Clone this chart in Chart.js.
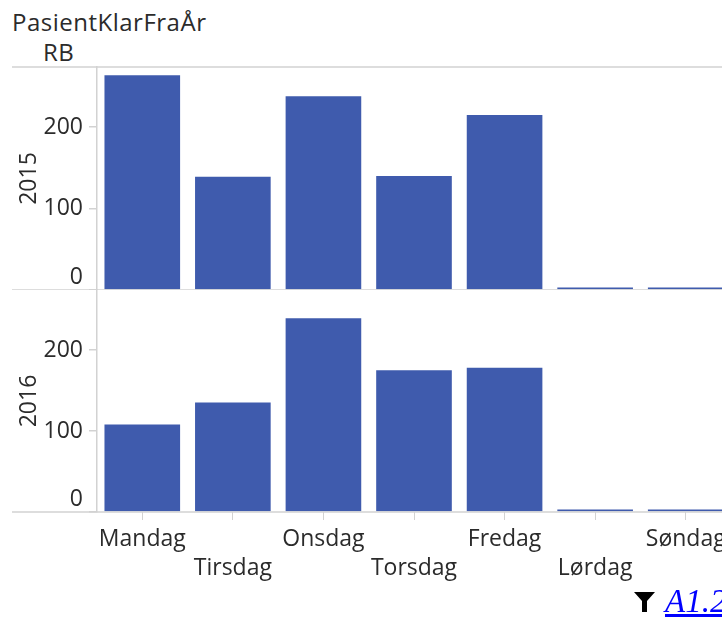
<!DOCTYPE html>
<html lang="no">
<head>
<meta charset="utf-8">
<title>PasientKlarFraÅr</title>
<script src="https://cdn.jsdelivr.net/npm/chart.js@4"></script>
<style>
    html, body { margin: 0; padding: 0; background: #fff; overflow: hidden; }
    #page { position: relative; width: 722px; height: 623px; overflow: hidden; font-family: "Open Sans", sans-serif; color: #2b2b2b; }
    #page canvas { position: absolute; left: 0; }
    #chart2015 { top: 60px; }
    #chart2016 { top: 283px; }
    .head { position: absolute; font-size: 24px; line-height: 28px; letter-spacing: 0.5px; white-space: nowrap; }
    #head1 { left: 12px; top: 8px; }
    #head2 { left: 43px; top: 38px; }
    #filter { position: absolute; left: 634px; top: 590px; }
    #link { position: absolute; left: 665px; top: 583px; font: italic 33px "Liberation Serif", serif; color: #0000ff; text-decoration: underline; white-space: nowrap; }
</style>
</head>
<body>
<div id="page">
    <div class="head" id="head1">PasientKlarFraÅr</div>
    <div class="head" id="head2">RB</div>
    <canvas id="chart2015"></canvas>
    <canvas id="chart2016"></canvas>
    <svg id="filter" width="22" height="24" viewBox="0 0 22 24"><path d="M0 2H21L13 11V22H8V11Z" fill="#000"/></svg>
    <a id="link" href="#">A1.2</a>
</div>
<script>
// Dados
const days = ['Mandag', 'Tirsdag', 'Onsdag', 'Torsdag', 'Fredag', 'Lørdag', 'Søndag'];
const values2015 = [264, 139, 238, 140, 215, 3, 3];
const values2016 = [108, 135, 239, 175, 178, 3, 3];
const yTicks = [0, 100, 200];
const yMax = 274;

const barColor = '#3f5bad';
const lineColor = '#d2d2d2';
const textColor = '#2b2b2b';
const fontName = 'Open Sans';

// Linhas horizontais que vão até a esquerda do eixo
const frameLines = {
    id: 'frameLines',
    afterDraw(chart) {
        const { ctx, chartArea } = chart;
        ctx.save();
        ctx.strokeStyle = lineColor;
        ctx.lineWidth = 1.5;
        ctx.beginPath();
        ctx.moveTo(12, chartArea.bottom);
        ctx.lineTo(chart.width, chartArea.bottom);
        if (chart.options.plugins.frameLines.top) {
            ctx.moveTo(12, chartArea.top);
            ctx.lineTo(chart.width, chartArea.top);
        }
        ctx.stroke();
        ctx.restore();
    }
};

function makeChart(canvasId, year, values, showLabels, canvasHeight, paddingTop) {
    const canvas = document.getElementById(canvasId);
    canvas.width = 731;
    canvas.height = canvasHeight;
    return new Chart(canvas, {
        type: 'bar',
        data: {
            labels: days,
            datasets: [{
                label: year,
                data: values,
                backgroundColor: barColor,
                barPercentage: 0.835,
                categoryPercentage: 1
            }]
        },
        plugins: [frameLines],
        options: {
            responsive: false,
            animation: false,
            layout: { padding: { top: paddingTop } },
            plugins: {
                legend: { display: false },
                tooltip: { enabled: false },
                frameLines: { top: showLabels === false }
            },
            scales: {
                x: {
                    afterFit: scale => { scale.height = showLabels ? 88 : 0; },
                    grid: {
                        offset: false,
                        drawOnChartArea: false,
                        drawTicks: showLabels,
                        tickLength: 8,
                        color: lineColor
                    },
                    border: { display: false },
                    ticks: {
                        display: showLabels,
                        autoSkip: false,
                        maxRotation: 0,
                        minRotation: 0,
                        padding: 5,
                        color: textColor,
                        font: { family: fontName, size: 23, lineHeight: 1.26 },
                        callback: function(value, index) {
                            const label = this.getLabelForValue(value);
                            return index % 2 ? ['', label] : label;
                        }
                    }
                },
                y: {
                    min: 0,
                    max: yMax,
                    afterBuildTicks: scale => { scale.ticks = yTicks.map(value => ({ value })); },
                    afterFit: scale => {
                        scale.width = 97;
                        scale.paddingTop = 0;
                        scale.paddingBottom = 0;
                    },
                    title: {
                        display: true,
                        text: year,
                        color: textColor,
                        padding: { top: 16, bottom: 0 },
                        font: { family: fontName, size: 23 }
                    },
                    grid: {
                        drawOnChartArea: false,
                        tickLength: 8,
                        color: lineColor,
                        lineWidth: 1.5
                    },
                    border: { color: lineColor, width: 1.5 },
                    ticks: {
                        padding: 6,
                        color: textColor,
                        font: { family: fontName, size: 23, lineHeight: 1.05 },
                        // O zero fica acima da linha de base
                        callback: value => value === 0 ? ['0', ''] : String(value)
                    }
                }
            }
        }
    });
}

makeChart('chart2015', '2015', values2015, false, 230, 7);
makeChart('chart2016', '2016', values2016, true, 317, 7);
</script>
</body>
</html>
